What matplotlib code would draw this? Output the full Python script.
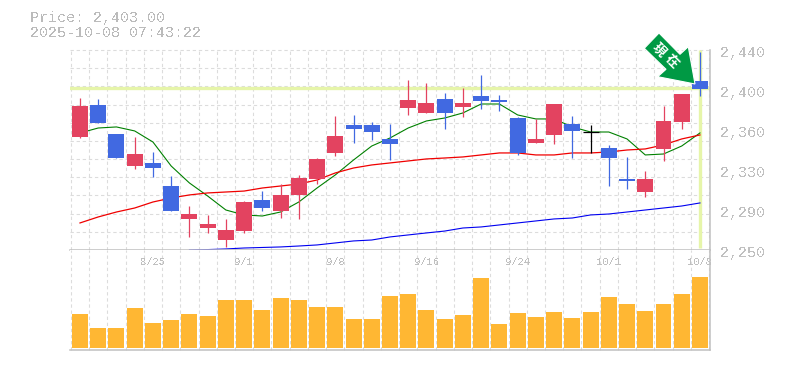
import numpy as np
import matplotlib
matplotlib.use('Agg')
import matplotlib.pyplot as plt
from matplotlib.patches import Polygon

# daily prices
opens = [2357.4, 2387.8, 2360.2, 2329.8, 2332.7, 2310.8, 2279.5, 2270.9, 2259.5, 2268.0, 2297.5, 2287.0,
         2302.3, 2317.5, 2342.2, 2368.8, 2368.8, 2355.5, 2384.9, 2380.2, 2393.5, 2385.9, 2396.3, 2392.5,
         2375.4, 2351.7, 2359.3, 2369.7, 2362.1, 2346.9, 2317.5, 2305.1, 2346.0, 2371.6, 2410.6]
closes = [2386.8, 2370.7, 2337.4, 2341.2, 2327.9, 2287.0, 2284.2, 2274.7, 2269.0, 2295.6, 2289.9, 2302.3,
          2318.4, 2336.5, 2358.3, 2365.0, 2362.1, 2350.7, 2392.5, 2389.7, 2380.2, 2389.7, 2391.6, 2390.6,
          2342.2, 2355.5, 2388.7, 2363.1, 2362.1, 2337.4, 2315.6, 2317.5, 2372.6, 2398.2, 2403.0]
highs = [2394.4, 2393.5, 2360.2, 2357.4, 2343.1, 2320.3, 2291.8, 2283.3, 2279.5, 2296.6, 2306.0, 2312.7,
         2321.3, 2337.4, 2377.3, 2378.3, 2371.6, 2369.7, 2411.5, 2408.7, 2399.2, 2403.9, 2416.3, 2397.3,
         2376.4, 2374.5, 2388.7, 2377.3, 2368.8, 2349.8, 2338.4, 2325.0, 2386.8, 2398.2, 2438.1]
lows = [2356.4, 2370.7, 2337.4, 2327.0, 2319.4, 2287.0, 2262.4, 2266.2, 2252.9, 2266.2, 2287.0, 2280.4,
        2279.5, 2312.7, 2339.3, 2351.7, 2354.5, 2335.5, 2378.3, 2380.2, 2365.0, 2376.4, 2384.0, 2382.0,
        2340.3, 2351.7, 2350.7, 2337.4, 2342.2, 2310.8, 2308.0, 2300.4, 2334.6, 2365.0, 2396.3]
ma_short = [2361.2, 2365.9, 2366.9, 2363.1, 2352.6, 2329.8, 2313.7, 2301.3, 2288.0, 2283.3, 2282.3, 2286.1,
            2295.6, 2308.9, 2321.3, 2335.5, 2348.8, 2356.4, 2365.9, 2372.6, 2375.4, 2380.2, 2388.7, 2388.7,
            2378.3, 2374.5, 2374.5, 2366.9, 2362.1, 2362.1, 2355.5, 2340.3, 2341.2, 2348.8, 2361.2]
ma_mid = [2275.7, 2281.4, 2286.1, 2289.9, 2295.6, 2299.4, 2302.3, 2304.2, 2305.1, 2306.0, 2308.9, 2310.8,
          2312.7, 2316.5, 2323.2, 2327.9, 2330.8, 2332.7, 2334.6, 2336.5, 2337.4, 2338.4, 2340.3, 2342.2,
          2342.2, 2340.3, 2340.3, 2342.2, 2342.2, 2343.1, 2345.0, 2346.0, 2349.8, 2355.5, 2359.3]
ma_long = [2250.0, 2250.4, 2251.0, 2251.9, 2252.4, 2252.9, 2253.8, 2254.8, 2256.7, 2258.6, 2259.5, 2262.4,
           2264.3, 2266.2, 2268.0, 2270.9, 2271.9, 2273.8, 2275.7, 2277.6, 2279.5, 2280.4, 2283.3, 2284.2,
           2286.1, 2288.0, 2289.9, 2291.8, 2294.7]
volumes = [34, 20, 20, 40, 25, 28, 34, 32, 48, 48, 38, 50, 48, 41, 41, 29, 29, 52,
           54, 38, 29, 33, 70, 24, 35, 31, 36, 30, 36, 51, 44, 37, 44, 54, 71]
date_pos = [4, 9, 14, 19, 24, 29, 34]
date_labels = ['8/25', '9/1', '9/8', '9/16', '9/24', '10/1', '10/8']
price_ticks = [2250, 2288, 2326, 2364, 2402, 2440]
price_labels = ['2,250', '2,290', '2,330', '2,360', '2,400', '2,440']
last_price = 2403.00
stamp = '2025-10-08 07:43:22'

W, H = 785, 370
UP = '#E34360'
DOWN = '#4169E1'
GRID = '#DCDCDC'
BORDER = '#C0C0C0'
HILITE = '#E6F5A9'
ARROW = '#009944'
MONO = 'Liberation Mono'


def px(x, y):
    return x / W, 1 - y / H


plt.rcParams['text.antialiased'] = False

fig = plt.figure(figsize=(W / 100, H / 100), dpi=100)
ax = fig.add_axes([70 / W, 1 - 250 / H, 640 / W, 200 / H])
vol = fig.add_axes([70 / W, 1 - 350 / H, 640 / W, 100 / H])

xs = np.arange(len(opens))
for a in (ax, vol):
    a.set_xlim(-0.548, 34.55)
    a.set_xticks([])
    a.set_yticks([])
    a.spines['top'].set_visible(False)
    a.spines['left'].set_visible(False)
    a.spines['right'].set_color(BORDER)
    a.spines['bottom'].set_color(BORDER)
    a.spines['right'].set_linewidth(1.1)
    a.spines['bottom'].set_linewidth(1.1)
    for g in np.arange(len(opens) + 1) - 0.5:
        a.axvline(g, color=GRID, lw=0.8, ls=(0, (3, 2.5)), zorder=0, clip_on=False)

ax.set_ylim(2250, 2440)
for g in np.linspace(2250, 2440, 12)[1:]:
    ax.axhline(g, color=GRID, lw=0.8, ls=(0, (3, 2.5)), zorder=0, clip_on=False)

# current price cross
ax.axhline(last_price + 0.8, color=HILITE, lw=2.4, zorder=1)
ax.plot([xs[-1], xs[-1]], [2252, 2440], color=HILITE, lw=2.4, zorder=1, solid_capstyle='butt')

ax.plot(xs, ma_short, color='#008000', lw=0.8, zorder=2)
ax.plot(xs, ma_mid, color='#F00000', lw=0.9, zorder=2)
ax.plot(xs[-len(ma_long):], ma_long, color='#0000F0', lw=0.8, zorder=2)

# candles
for i in xs:
    o, c = opens[i], closes[i]
    if o == c:
        col = 'black'
    elif c > o:
        col = UP
    else:
        col = DOWN
    ax.vlines(i, lows[i], highs[i], color=col, lw=0.9, zorder=3)
    if o == c:
        ax.hlines(c, i - 0.44, i + 0.44, color=col, lw=0.9, zorder=3)
    else:
        ax.bar(i, abs(c - o), bottom=min(o, c), width=0.877, color=col, zorder=4)

for p, lab in zip(price_ticks, price_labels):
    ax.annotate(lab, xy=(1, p), xycoords=('axes fraction', 'data'), xytext=(7.2, -2.2),
                textcoords='offset points', va='center', ha='left', color=BORDER,
                fontsize=10.8, family=MONO, annotation_clip=False)

vol.set_ylim(-2, 98)
vol.bar(xs, volumes, width=0.877, color='#FFB733', zorder=2)
for p, lab in zip(date_pos, date_labels):
    vol.annotate(lab, xy=(p, 1), xycoords=('data', 'axes fraction'), xytext=(0, -8.6),
                 textcoords='offset points', va='center', ha='center', color=BORDER,
                 fontsize=7.6, family=MONO, zorder=5, annotation_clip=False)

fig.text(*px(30, 18), f'Price: {last_price:,.2f}', color='#BBBBBB', fontsize=10.8, family=MONO, va='center')
fig.text(*px(30, 33), stamp, color='#BBBBBB', fontsize=10.8, family=MONO, va='center')

# arrow pointing at the latest candle
arrow_pts = [(659, 33), (680, 54.3), (688.3, 46.7), (695, 84), (657.7, 76.7), (666, 69.3), (644.3, 48.3)]
fig.add_artist(Polygon([px(*p) for p in arrow_pts], closed=True, transform=fig.transFigure,
                       facecolor=ARROW, edgecolor='white', lw=0.8, zorder=10))
for (gx, gy), ch in zip([(659, 50), (671.7, 61)], '現在'):
    fig.text(*px(gx, gy), ch, color='white', fontsize=9.5, rotation=-45, ha='center', va='center',
             family='Noto Sans CJK JP', fontweight='bold', zorder=11, antialiased=True)

fig.savefig('out.png', dpi=100)
